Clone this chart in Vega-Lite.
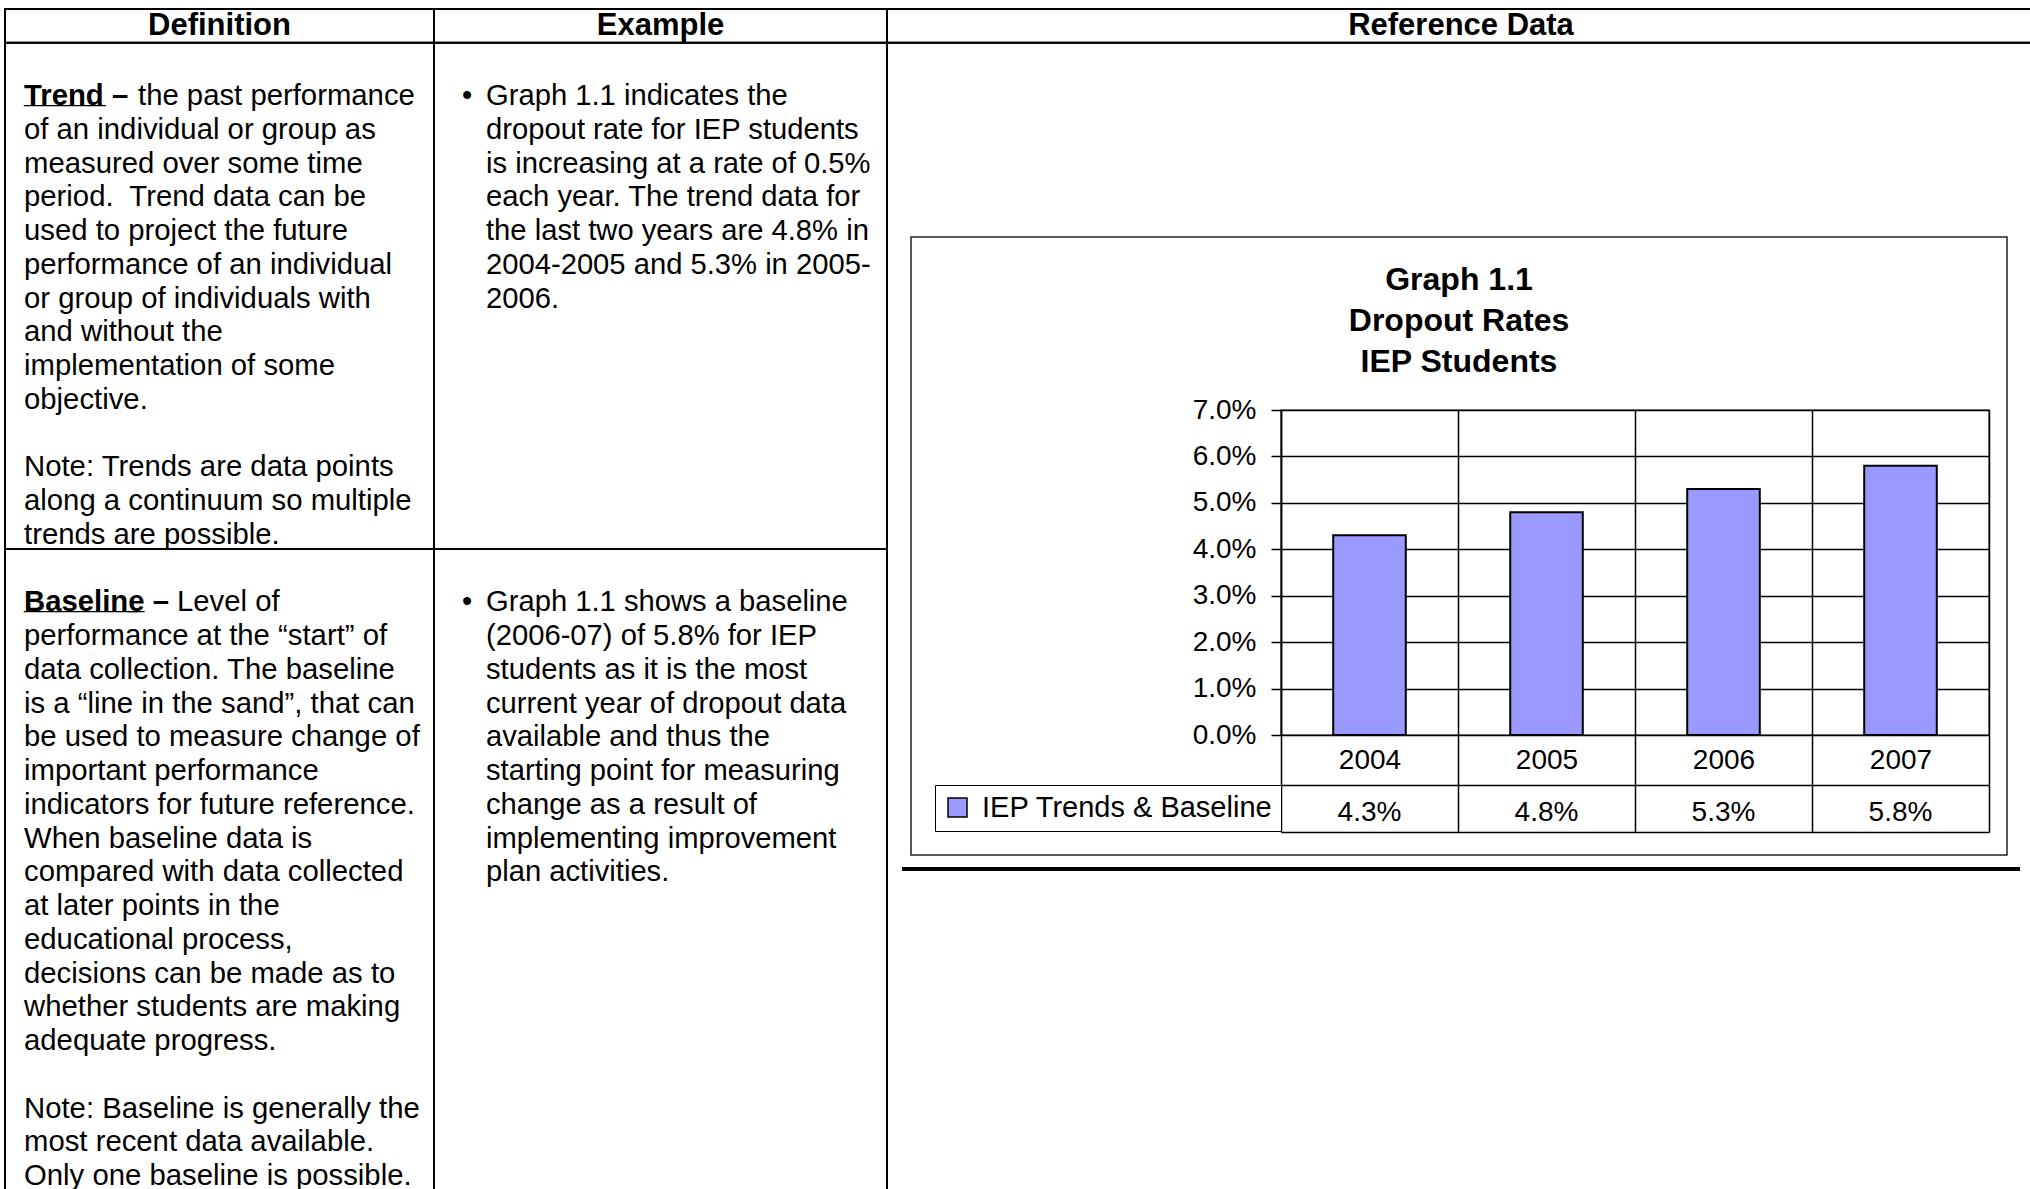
{
  "$schema": "https://vega.github.io/schema/vega-lite/v6.json",
  "width": 708,
  "height": 325,
  "autosize": {"type": "none"},
  "padding": {"left": 1281, "top": 410, "right": 41, "bottom": 454},
  "background": "#ffffff",
  "config": {
    "font": "Liberation Sans",
    "view": {"stroke": "#8c8c8c", "strokeWidth": 2},
    "text": {"font": "Liberation Sans", "color": "#000000"},
    "axis": {"labelFont": "Liberation Sans", "labelColor": "#000000"},
    "legend": {"labelFont": "Liberation Sans", "labelColor": "#000000"}
  },
  "datasets": {
    "rates": [
      {"year": "2004", "rate": 0.043, "series": "IEP Trends & Baseline"},
      {"year": "2005", "rate": 0.048, "series": "IEP Trends & Baseline"},
      {"year": "2006", "rate": 0.053, "series": "IEP Trends & Baseline"},
      {"year": "2007", "rate": 0.058, "series": "IEP Trends & Baseline"}
    ],
    "cells": [
      {"column": "Definition", "cell": "Header", "lines": 1},
      {"column": "Definition", "cell": "Trend", "lines": 15},
      {"column": "Definition", "cell": "Baseline", "lines": 19},
      {"column": "Example", "cell": "Header", "lines": 1},
      {"column": "Example", "cell": "Trend", "lines": 15},
      {"column": "Example", "cell": "Baseline", "lines": 19},
      {"column": "Reference Data", "cell": "Header", "lines": 1},
      {"column": "Reference Data", "cell": "Body", "lines": 34}
    ],
    "lines": [
      {"column": "Definition", "line": 0, "role": "header", "text": "Definition"},
      {"column": "Definition", "line": 2, "role": "lead", "lead": "Trend –", "text": "the past performance"},
      {"column": "Definition", "line": 3, "role": "body", "text": "of an individual or group as"},
      {"column": "Definition", "line": 4, "role": "body", "text": "measured over some time"},
      {"column": "Definition", "line": 5, "role": "body", "text": "period.\u00a0 Trend data can be"},
      {"column": "Definition", "line": 6, "role": "body", "text": "used to project the future"},
      {"column": "Definition", "line": 7, "role": "body", "text": "performance of an individual"},
      {"column": "Definition", "line": 8, "role": "body", "text": "or group of individuals with"},
      {"column": "Definition", "line": 9, "role": "body", "text": "and without the"},
      {"column": "Definition", "line": 10, "role": "body", "text": "implementation of some"},
      {"column": "Definition", "line": 11, "role": "body", "text": "objective."},
      {"column": "Definition", "line": 13, "role": "body", "text": "Note: Trends are data points"},
      {"column": "Definition", "line": 14, "role": "body", "text": "along a continuum so multiple"},
      {"column": "Definition", "line": 15, "role": "body", "text": "trends are possible."},
      {"column": "Definition", "line": 17, "role": "lead", "lead": "Baseline –", "text": "Level of"},
      {"column": "Definition", "line": 18, "role": "body", "text": "performance at the “start” of"},
      {"column": "Definition", "line": 19, "role": "body", "text": "data collection. The baseline"},
      {"column": "Definition", "line": 20, "role": "body", "text": "is a “line in the sand”, that can"},
      {"column": "Definition", "line": 21, "role": "body", "text": "be used to measure change of"},
      {"column": "Definition", "line": 22, "role": "body", "text": "important performance"},
      {"column": "Definition", "line": 23, "role": "body", "text": "indicators for future reference."},
      {"column": "Definition", "line": 24, "role": "body", "text": "When baseline data is"},
      {"column": "Definition", "line": 25, "role": "body", "text": "compared with data collected"},
      {"column": "Definition", "line": 26, "role": "body", "text": "at later points in the"},
      {"column": "Definition", "line": 27, "role": "body", "text": "educational process,"},
      {"column": "Definition", "line": 28, "role": "body", "text": "decisions can be made as to"},
      {"column": "Definition", "line": 29, "role": "body", "text": "whether students are making"},
      {"column": "Definition", "line": 30, "role": "body", "text": "adequate progress."},
      {"column": "Definition", "line": 32, "role": "body", "text": "Note: Baseline is generally the"},
      {"column": "Definition", "line": 33, "role": "body", "text": "most recent data available."},
      {"column": "Definition", "line": 34, "role": "body", "text": "Only one baseline is possible."},
      {"column": "Example", "line": 0, "role": "header", "text": "Example"},
      {"column": "Example", "line": 2, "role": "body", "marker": "•", "text": "Graph 1.1 indicates the"},
      {"column": "Example", "line": 3, "role": "body", "text": "dropout rate for IEP students"},
      {"column": "Example", "line": 4, "role": "body", "text": "is increasing at a rate of 0.5%"},
      {"column": "Example", "line": 5, "role": "body", "text": "each year. The trend data for"},
      {"column": "Example", "line": 6, "role": "body", "text": "the last two years are 4.8% in"},
      {"column": "Example", "line": 7, "role": "body", "text": "2004-2005 and 5.3% in 2005-"},
      {"column": "Example", "line": 8, "role": "body", "text": "2006."},
      {"column": "Example", "line": 17, "role": "body", "marker": "•", "text": "Graph 1.1 shows a baseline"},
      {"column": "Example", "line": 18, "role": "body", "text": "(2006-07) of 5.8% for IEP"},
      {"column": "Example", "line": 19, "role": "body", "text": "students as it is the most"},
      {"column": "Example", "line": 20, "role": "body", "text": "current year of dropout data"},
      {"column": "Example", "line": 21, "role": "body", "text": "available and thus the"},
      {"column": "Example", "line": 22, "role": "body", "text": "starting point for measuring"},
      {"column": "Example", "line": 23, "role": "body", "text": "change as a result of"},
      {"column": "Example", "line": 24, "role": "body", "text": "implementing improvement"},
      {"column": "Example", "line": 25, "role": "body", "text": "plan activities."},
      {"column": "Reference Data", "line": 0, "role": "header", "text": "Reference Data"}
    ]
  },
  "layer": [
    {
      "layer": [
        {
          "data": {"name": "cells"},
          "transform": [{"filter": "datum.column === 'Definition'"}],
          "mark": {"type": "bar", "fill": "transparent", "stroke": "#000000", "strokeWidth": 2},
          "encoding": {
            "x": {"field": "column", "type": "nominal", "scale": {"domain": ["Definition"], "range": [-1276, -847], "paddingInner": 0, "paddingOuter": 0}, "axis": null},
            "y": {"field": "lines", "type": "quantitative", "stack": "zero", "scale": {"domain": [0, 35], "range": [-401, 780.25]}, "axis": null},
            "order": {"field": "lines", "type": "quantitative"},
            "detail": {"field": "cell"}
          }
        },
        {
          "data": {"name": "lines"},
          "transform": [{"filter": "datum.column === 'Definition' && datum.role === 'header'"}],
          "mark": {"type": "text", "fontWeight": "bold", "fontSize": 31, "baseline": "middle", "align": "center", "dy": 17},
          "encoding": {
            "x": {"field": "column", "type": "nominal", "scale": {"domain": ["Definition"], "range": [-1276, -847], "paddingInner": 0, "paddingOuter": 0}, "axis": null},
            "y": {"field": "line", "type": "quantitative", "scale": {"domain": [0, 35], "range": [-401, 780.25]}, "axis": null},
            "text": {"field": "text"}
          }
        },
        {
          "data": {"name": "lines"},
          "transform": [{"filter": "datum.column === 'Definition' && datum.role === 'body'"}],
          "mark": {"type": "text", "fontSize": 29.3, "baseline": "middle", "align": "left", "dx": 19, "dy": 19.5},
          "encoding": {
            "x": {"field": "column", "type": "nominal", "bandPosition": 0, "scale": {"domain": ["Definition"], "range": [-1276, -847], "paddingInner": 0, "paddingOuter": 0}, "axis": null},
            "y": {"field": "line", "type": "quantitative", "scale": {"domain": [0, 35], "range": [-401, 780.25]}, "axis": null},
            "text": {"field": "text"}
          }
        },
        {
          "data": {"name": "lines"},
          "transform": [{"filter": "datum.column === 'Definition' && datum.role === 'lead'"}],
          "mark": {"type": "text", "fontSize": 29.3, "fontWeight": "bold", "baseline": "middle", "align": "left", "dx": 19, "dy": 19.5},
          "encoding": {
            "x": {"field": "column", "type": "nominal", "bandPosition": 0, "scale": {"domain": ["Definition"], "range": [-1276, -847], "paddingInner": 0, "paddingOuter": 0}, "axis": null},
            "y": {"field": "line", "type": "quantitative", "scale": {"domain": [0, 35], "range": [-401, 780.25]}, "axis": null},
            "text": {"field": "lead"}
          }
        },
        {
          "data": {"name": "lines"},
          "transform": [{"filter": "datum.column === 'Definition' && datum.lead === 'Trend –'"}],
          "mark": {"type": "text", "fontSize": 29.3, "baseline": "middle", "align": "left", "dx": 133, "dy": 19.5},
          "encoding": {
            "x": {"field": "column", "type": "nominal", "bandPosition": 0, "scale": {"domain": ["Definition"], "range": [-1276, -847], "paddingInner": 0, "paddingOuter": 0}, "axis": null},
            "y": {"field": "line", "type": "quantitative", "scale": {"domain": [0, 35], "range": [-401, 780.25]}, "axis": null},
            "text": {"field": "text"}
          }
        },
        {
          "data": {"name": "lines"},
          "transform": [{"filter": "datum.column === 'Definition' && datum.lead === 'Baseline –'"}],
          "mark": {"type": "text", "fontSize": 29.3, "baseline": "middle", "align": "left", "dx": 172, "dy": 19.5},
          "encoding": {
            "x": {"field": "column", "type": "nominal", "bandPosition": 0, "scale": {"domain": ["Definition"], "range": [-1276, -847], "paddingInner": 0, "paddingOuter": 0}, "axis": null},
            "y": {"field": "line", "type": "quantitative", "scale": {"domain": [0, 35], "range": [-401, 780.25]}, "axis": null},
            "text": {"field": "text"}
          }
        },
        {
          "data": {"name": "lines"},
          "transform": [{"filter": "datum.column === 'Definition' && datum.lead === 'Trend –'"}],
          "mark": {"type": "text", "fontSize": 29.3, "fontWeight": "bold", "baseline": "middle", "align": "left", "dx": 19, "dy": 17.5},
          "encoding": {
            "x": {"field": "column", "type": "nominal", "bandPosition": 0, "scale": {"domain": ["Definition"], "range": [-1276, -847], "paddingInner": 0, "paddingOuter": 0}, "axis": null},
            "y": {"field": "line", "type": "quantitative", "scale": {"domain": [0, 35], "range": [-401, 780.25]}, "axis": null},
            "text": {"value": "_____"}
          }
        },
        {
          "data": {"name": "lines"},
          "transform": [{"filter": "datum.column === 'Definition' && datum.lead === 'Baseline –'"}],
          "mark": {"type": "text", "fontSize": 29.3, "fontWeight": "bold", "baseline": "middle", "align": "left", "dx": 19, "dy": 17.5},
          "encoding": {
            "x": {"field": "column", "type": "nominal", "bandPosition": 0, "scale": {"domain": ["Definition"], "range": [-1276, -847], "paddingInner": 0, "paddingOuter": 0}, "axis": null},
            "y": {"field": "line", "type": "quantitative", "scale": {"domain": [0, 35], "range": [-401, 780.25]}, "axis": null},
            "text": {"value": "_______"}
          }
        },
        {
          "data": {"name": "lines"},
          "transform": [{"filter": "datum.column === 'Definition' && datum.lead === 'Baseline –'"}],
          "mark": {"type": "text", "fontSize": 29.3, "fontWeight": "bold", "baseline": "middle", "align": "left", "dx": 123, "dy": 17.5},
          "encoding": {
            "x": {"field": "column", "type": "nominal", "bandPosition": 0, "scale": {"domain": ["Definition"], "range": [-1276, -847], "paddingInner": 0, "paddingOuter": 0}, "axis": null},
            "y": {"field": "line", "type": "quantitative", "scale": {"domain": [0, 35], "range": [-401, 780.25]}, "axis": null},
            "text": {"value": "_"}
          }
        }
      ]
    },
    {
      "layer": [
        {
          "data": {"name": "cells"},
          "transform": [{"filter": "datum.column === 'Example'"}],
          "mark": {"type": "bar", "fill": "transparent", "stroke": "#000000", "strokeWidth": 2},
          "encoding": {
            "x": {"field": "column", "type": "nominal", "scale": {"domain": ["Example"], "range": [-847, -394], "paddingInner": 0, "paddingOuter": 0}, "axis": null},
            "y": {"field": "lines", "type": "quantitative", "stack": "zero", "scale": {"domain": [0, 35], "range": [-401, 780.25]}, "axis": null},
            "order": {"field": "lines", "type": "quantitative"},
            "detail": {"field": "cell"}
          }
        },
        {
          "data": {"name": "lines"},
          "transform": [{"filter": "datum.column === 'Example' && datum.role === 'header'"}],
          "mark": {"type": "text", "fontWeight": "bold", "fontSize": 31, "baseline": "middle", "align": "center", "dy": 17},
          "encoding": {
            "x": {"field": "column", "type": "nominal", "scale": {"domain": ["Example"], "range": [-847, -394], "paddingInner": 0, "paddingOuter": 0}, "axis": null},
            "y": {"field": "line", "type": "quantitative", "scale": {"domain": [0, 35], "range": [-401, 780.25]}, "axis": null},
            "text": {"field": "text"}
          }
        },
        {
          "data": {"name": "lines"},
          "transform": [{"filter": "datum.column === 'Example' && datum.role === 'body'"}],
          "mark": {"type": "text", "fontSize": 29.2, "baseline": "middle", "align": "left", "dx": 52, "dy": 19.5},
          "encoding": {
            "x": {"field": "column", "type": "nominal", "bandPosition": 0, "scale": {"domain": ["Example"], "range": [-847, -394], "paddingInner": 0, "paddingOuter": 0}, "axis": null},
            "y": {"field": "line", "type": "quantitative", "scale": {"domain": [0, 35], "range": [-401, 780.25]}, "axis": null},
            "text": {"field": "text"}
          }
        },
        {
          "data": {"name": "lines"},
          "transform": [{"filter": "datum.column === 'Example' && datum.marker"}],
          "mark": {"type": "text", "fontSize": 29.2, "baseline": "middle", "align": "left", "dx": 28, "dy": 19.5},
          "encoding": {
            "x": {"field": "column", "type": "nominal", "bandPosition": 0, "scale": {"domain": ["Example"], "range": [-847, -394], "paddingInner": 0, "paddingOuter": 0}, "axis": null},
            "y": {"field": "line", "type": "quantitative", "scale": {"domain": [0, 35], "range": [-401, 780.25]}, "axis": null},
            "text": {"field": "marker"}
          }
        }
      ]
    },
    {
      "layer": [
        {
          "data": {"name": "cells"},
          "transform": [{"filter": "datum.column === 'Reference Data'"}],
          "mark": {"type": "bar", "fill": "transparent", "stroke": "#000000", "strokeWidth": 2},
          "encoding": {
            "x": {"field": "column", "type": "nominal", "scale": {"domain": ["Reference Data"], "range": [-394, 758], "paddingInner": 0, "paddingOuter": 0}, "axis": null},
            "y": {"field": "lines", "type": "quantitative", "stack": "zero", "scale": {"domain": [0, 35], "range": [-401, 780.25]}, "axis": null},
            "order": {"field": "lines", "type": "quantitative"},
            "detail": {"field": "cell"}
          }
        },
        {
          "data": {"name": "lines"},
          "transform": [{"filter": "datum.column === 'Reference Data' && datum.role === 'header'"}],
          "mark": {"type": "text", "fontWeight": "bold", "fontSize": 31, "baseline": "middle", "align": "center", "dx": -2, "dy": 17},
          "encoding": {
            "x": {"field": "column", "type": "nominal", "scale": {"domain": ["Reference Data"], "range": [-394, 758], "paddingInner": 0, "paddingOuter": 0}, "axis": null},
            "y": {"field": "line", "type": "quantitative", "scale": {"domain": [0, 35], "range": [-401, 780.25]}, "axis": null},
            "text": {"field": "text"}
          }
        }
      ]
    },
    {
      "data": {"values": [{"chart": "Graph 1.1\nDropout Rates\nIEP Students"}]},
      "layer": [
        {
          "mark": {"type": "rect", "fill": "transparent", "stroke": "#222222", "strokeWidth": 1.5},
          "encoding": {
            "x": {"field": "chart", "type": "nominal", "scale": {"range": [-370, 726], "paddingInner": 0, "paddingOuter": 0}, "axis": null},
            "y": {"field": "chart", "type": "nominal", "scale": {"range": [-173, 445], "paddingInner": 0, "paddingOuter": 0}, "axis": null}
          }
        },
        {
          "mark": {"type": "text", "fontWeight": "bold", "fontSize": 32, "lineHeight": 41, "lineBreak": "\n", "baseline": "middle", "align": "center", "dy": 43},
          "encoding": {
            "x": {"field": "chart", "type": "nominal", "scale": {"range": [-370, 726], "paddingInner": 0, "paddingOuter": 0}, "axis": null},
            "y": {"field": "chart", "type": "nominal", "bandPosition": 0, "scale": {"range": [-173, 445], "paddingInner": 0, "paddingOuter": 0}, "axis": null},
            "text": {"field": "chart"}
          }
        }
      ]
    },
    {
      "data": {"values": [{"border": "Reference Data"}]},
      "mark": {"type": "rect", "color": "#000000"},
      "encoding": {
        "x": {"field": "border", "type": "nominal", "scale": {"range": [-379, 739], "paddingInner": 0, "paddingOuter": 0}, "axis": null},
        "y": {"field": "border", "type": "nominal", "scale": {"range": [457, 461], "paddingInner": 0, "paddingOuter": 0}, "axis": null}
      }
    },
    {
      "data": {"name": "rates"},
      "layer": [
        {
          "mark": {"type": "bar", "stroke": "#000000", "strokeWidth": 2, "width": {"band": 0.41}},
          "encoding": {
            "x": {
              "field": "year", "type": "ordinal",
              "scale": {"paddingInner": 0, "paddingOuter": 0},
              "axis": {
                "orient": "bottom", "offset": 50, "title": null,
                "tickBand": "extent", "tickSize": -375, "tickColor": "#000000", "tickWidth": 1.5,
                "domainColor": "#000000", "domainWidth": 1.5,
                "labelAngle": 0, "labelFontSize": 28, "labelBaseline": "middle", "labelPadding": 350,
                "grid": false
              }
            },
            "y": {
              "field": "rate", "type": "quantitative",
              "scale": {"domain": [0, 0.07], "nice": false},
              "axis": {
                "values": [0, 0.01, 0.02, 0.03, 0.04, 0.05, 0.06, 0.07],
                "format": ".1%", "title": null,
                "labelFontSize": 28, "labelPadding": 15, "labelFlush": false, "labelOverlap": false,
                "tickSize": 10, "tickColor": "#000000", "tickWidth": 1.5,
                "domainColor": "#000000", "domainWidth": 1.5,
                "grid": true, "gridColor": "#000000", "gridWidth": 1.5
              }
            },
            "color": {
              "field": "series", "type": "nominal",
              "scale": {"range": ["#9999ff"]},
              "legend": {
                "orient": "none", "legendX": -346, "legendY": 375,
                "title": null, "padding": 8, "strokeColor": "#000000", "fillColor": "#ffffff",
                "symbolType": "square", "symbolSize": 361, "symbolStrokeColor": "#000000", "symbolStrokeWidth": 1.5, "symbolOpacity": 1,
                "labelFontSize": 29, "labelOffset": 10, "labelLimit": 0
              }
            }
          }
        },
        {
          "mark": {"type": "text", "fontSize": 28, "baseline": "middle", "align": "center", "dy": 78},
          "encoding": {
            "x": {
              "field": "year", "type": "ordinal",
              "scale": {"paddingInner": 0, "paddingOuter": 0},
              "axis": {
                "orient": "bottom", "offset": 97, "title": null,
                "tickBand": "extent", "tickSize": -47, "tickColor": "#000000", "tickWidth": 1.5,
                "domainColor": "#000000", "domainWidth": 1.5,
                "labels": false, "grid": false
              }
            },
            "y": {"datum": 0, "type": "quantitative", "scale": {"domain": [0, 0.07], "nice": false}},
            "text": {"field": "rate", "type": "quantitative", "format": ".1%"}
          }
        }
      ],
      "resolve": {"axis": {"x": "independent"}}
    }
  ],
  "resolve": {
    "scale": {"x": "independent", "y": "independent"},
    "axis": {"x": "independent", "y": "independent"}
  }
}
